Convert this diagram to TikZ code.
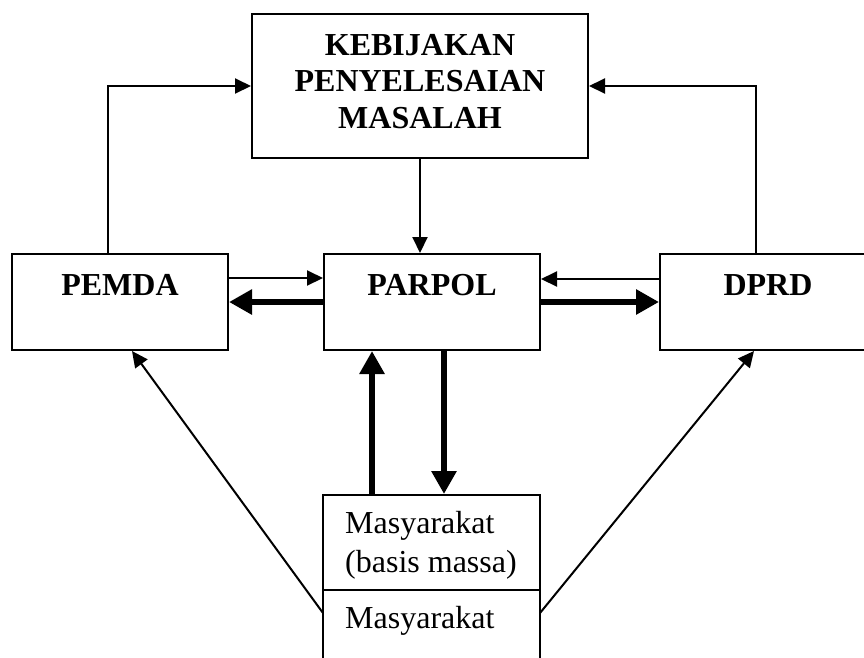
\documentclass[tikz,border=0pt]{standalone}
\usepackage{fontspec}
\setmainfont{Liberation Serif}
\usetikzlibrary{arrows.meta}
\begin{document}
\begin{tikzpicture}[x=1pt,y=-1pt,
  box/.style={draw,line width=2pt,minimum width=216pt,minimum height=96pt,inner sep=0pt},
  txtb/.style={inner sep=0pt,font=\fontsize{32}{36}\selectfont\bfseries,anchor=base},
  txtr/.style={inner sep=0pt,font=\fontsize{32}{36}\selectfont,anchor=base west},
  thinarrow/.style={line width=2pt,-{Triangle[length=16pt,width=15pt]}},
  thickarrow/.style={line width=6.8pt,-{Triangle[length=23pt,width=24pt]}}]
\fill[white] (0,0) rectangle (864,657);
\useasboundingbox (0,0) rectangle (864,657);
% boxes
\node[box,minimum width=336pt,minimum height=144pt] (top) at (420,86) {};
\node[box] (pemda) at (120,302) {};
\node[box] (parpol) at (432,302) {};
\node[box] (dprd) at (768,302) {};
\node[box,minimum width=217pt,minimum height=95pt] (masy1) at (431.5,542.5) {};
\node[box,minimum width=217pt,minimum height=95pt] (masy2) at (431.5,637.5) {};
% texts
\node[txtb] (t1) at (420,55) {KEBIJAKAN};
\node[txtb] (t2) at (420,91) {PENYELESAIAN};
\node[txtb] (t3) at (420,128) {MASALAH};
\node[txtb] (tpemda) at (120,295) {PEMDA};
\node[txtb] (tparpol) at (432,295) {PARPOL};
\node[txtb] (tdprd) at (768,295) {DPRD};
\node[txtr] (tm1) at (345,533) {Masyarakat};
\node[txtr] (tm2) at (345,572) {(basis massa)};
\node[txtr] (tm3) at (345,628) {Masyarakat};
% connectors to top box
\draw[thinarrow] ([xshift=-12pt]pemda.north) |- (top.west);
\draw[thinarrow] ([xshift=-12pt]dprd.north) |- (top.east);
\draw[thinarrow] (top.south) -- (top.south |- parpol.north);
% horizontal arrows
\draw[thinarrow] ([yshift=24pt]pemda.east) -- ([yshift=24pt]parpol.west);
\draw[thickarrow] (parpol.west) -- (pemda.east);
\draw[thinarrow] ([yshift=23pt]dprd.west) -- ([yshift=23pt]parpol.east);
\draw[thickarrow] (parpol.east) -- (dprd.west);
% vertical thick arrows
\draw[thickarrow] ([xshift=-60pt]parpol.south |- masy1.north) -- ([xshift=-60pt]parpol.south);
\draw[thickarrow] ([xshift=12pt]parpol.south) -- ([xshift=12pt]parpol.south |- masy1.north);
% diagonals
\coordinate (dl) at (323,613);
\coordinate (dr) at (540,613);
\draw[thinarrow] (dl) -- ([xshift=121pt]pemda.south west);
\draw[thinarrow] (dr) -- ([xshift=95pt]dprd.south west);
\end{tikzpicture}
\end{document}
